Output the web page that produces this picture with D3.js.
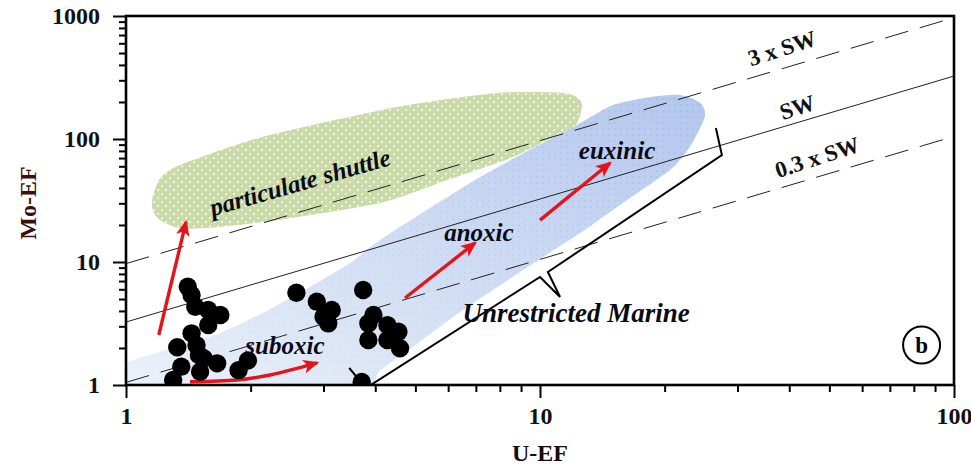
<!DOCTYPE html>
<html>
<head>
<meta charset="utf-8">
<script src="https://cdn.jsdelivr.net/npm/d3@7"></script>
<style>
  body { margin: 0; background: #fff; }
  text { font-family: "Liberation Serif", "Times New Roman", serif; }
</style>
</head>
<body>
<svg id="chart" width="971" height="473"></svg>
<script>
// ---- Sample enrichment factors (U-EF, Mo-EF) ----
const sampleU  = [1.41, 1.44, 1.47, 1.58, 1.69, 1.58, 1.44, 1.33, 1.48, 1.50, 1.54, 1.66, 1.36, 1.51, 1.30, 1.87, 1.97,
                  2.58, 2.89, 3.14, 3.00, 3.08, 3.74, 3.96, 3.85, 4.28, 4.55, 3.85, 4.28, 4.59, 3.71];
const sampleMo = [6.30, 5.39, 4.33, 4.07, 3.71, 3.07, 2.63, 2.03, 2.11, 1.75, 1.65, 1.50, 1.41, 1.28, 1.10, 1.32, 1.58,
                  5.63, 4.76, 4.07, 3.59, 3.17, 5.92, 3.71, 3.17, 3.07, 2.71, 2.32, 2.32, 1.99, 1.06];

// ---- Axis ticks ----
const xMajor = [1, 10, 100];
const yMajor = [1, 10, 100, 1000];
const xMinor = [2,3,4,5,6,7,8,9, 20,30,40,50,60,70,80,90];
const yMinor = [2,3,4,5,6,7,8,9, 20,30,40,50,60,70,80,90, 200,300,400,500,600,700,800,900];

// ---- Seawater Mo/U reference lines (Mo-EF = k * U-EF) ----
const refNames   = ["3 x SW", "SW", "0.3 x SW"];
const refFactors = [9.7, 3.25, 1.05];
const refDashed  = [true, false, true];
const refLabelU  = [38.4, 41.8, 46.7];
const refLabelMo = [549, 182, 71.4];

// ---- Particulate shuttle field outline ----
const shuttleU  = [1.16, 1.21, 1.35, 2.14, 4.51, 7.87, 11.4, 12.5, 12.6, 12.2, 11.2, 8.6, 5.96, 4.11, 2.14, 1.40, 1.21, 1.16];
const shuttleMo = [33.8, 48.2, 61.5, 104, 182, 237, 237, 208, 172, 130, 112, 71.4, 46.4, 30.2, 21.1, 18.6, 21.9, 26.5];

// ---- Unrestricted marine field outline ----
const marineU  = [0.90, 0.95, 1.69, 2.45, 3.48, 4.11, 7.17, 12.5, 15.0, 18.4, 21.8, 24.4, 25.0, 23.0, 20.6, 15.6, 12.5, 8.95, 6.41, 4.93, 4.11, 3.48, 0.90];
const marineMo = [0.70, 1.40, 2.65, 4.91, 9.81, 15.1, 49.1, 135, 189, 219, 228, 196, 151, 86.1, 56.0, 29.1, 17.2, 8.29, 3.92, 2.04, 1.32, 0.83, 0.70];

// ---- Bracket enclosing the unrestricted marine trend ----
const bracketU  = [3.46, 3.80, 10.0, 11.18, 10.45, 27.5, 26.6];
const bracketMo = [1.375, 0.945, 7.55, 5.19, 8.29, 74.1, 122.9];

// ---- Redox trend arrows ----
const arrowShuttleU  = [1.20, 1.396];
const arrowShuttleMo = [2.55, 21.1];
const arrowSuboxicU  = [1.428, 1.854, 2.228, 2.893];
const arrowSuboxicMo = [1.064, 1.098, 1.206, 1.51];
const arrowAnoxicU   = [4.72, 6.97];
const arrowAnoxicMo  = [5.10, 14.3];
const arrowEuxinicU  = [10.0, 14.76];
const arrowEuxinicMo = [21.9, 63.8];

// ---- Field labels ----
const fieldNames = ["particulate shuttle", "suboxic", "anoxic", "euxinic", "Unrestricted Marine"];
const fieldU     = [2.63, 2.42, 7.12, 15.35, 12.22];
const fieldMo    = [44.7, 2.11, 17.5, 81.4, 3.85];
const fieldAngle = [-16, 0, 0, 0, 0];
const fieldSize  = [25, 25, 25, 25, 27];

const panelTag = "b";
const panelU = 83.5, panelMo = 2.11;

// ---------------------------------------------------------------
const svg = d3.select("#chart");
const plotL = 126, plotR = 954, plotT = 16, plotB = 385;

const x = d3.scaleLog().domain([1, 100]).range([plotL, plotR]);
const y = d3.scaleLog().domain([1, 1000]).range([plotB, plotT]);

const zip = (a, b) => a.map((v, i) => [v, b[i]]);
const line = d3.line().x(d => x(d[0])).y(d => y(d[1]));

const defs = svg.append("defs");
defs.append("clipPath").attr("id", "plotClip")
  .append("rect").attr("x", plotL).attr("y", plotT).attr("width", plotR - plotL).attr("height", plotB - plotT);

// green dotted texture
const gp = defs.append("pattern").attr("id", "greenDots").attr("patternUnits", "userSpaceOnUse")
  .attr("width", 8).attr("height", 8);
gp.append("rect").attr("width", 8).attr("height", 8).attr("fill", "#cbdaa9");
gp.append("rect").attr("x", 0).attr("y", 0).attr("width", 1).attr("height", 1).attr("fill", "#bdcf96");
gp.append("rect").attr("x", 4).attr("y", 2).attr("width", 1).attr("height", 1).attr("fill", "#bdcf96");
gp.append("circle").attr("cx", 2).attr("cy", 2).attr("r", 0.9).attr("fill", "#ffffff");
gp.append("circle").attr("cx", 6).attr("cy", 6).attr("r", 0.9).attr("fill", "#ffffff");

// blue field gradient
const bg = defs.append("linearGradient").attr("id", "blueGrad")
  .attr("x1", 0).attr("y1", 1).attr("x2", 1).attr("y2", 0);
bg.append("stop").attr("offset", "0%").attr("stop-color", "#f0f4fb");
bg.append("stop").attr("offset", "35%").attr("stop-color", "#dae4f5");
bg.append("stop").attr("offset", "70%").attr("stop-color", "#c6d5f1");
bg.append("stop").attr("offset", "100%").attr("stop-color", "#b2c6ed");

// blue dot grid, fading in toward high enrichment
const bp = defs.append("pattern").attr("id", "blueDots").attr("patternUnits", "userSpaceOnUse")
  .attr("width", 6).attr("height", 6);
bp.append("circle").attr("cx", 3).attr("cy", 3).attr("r", 1.1).attr("fill", "#a3bbea");
bp.append("rect").attr("x", 0).attr("y", 0).attr("width", 6).attr("height", 0.6).attr("fill", "#bccdf0");
const mg = defs.append("linearGradient").attr("id", "fadeGrad")
  .attr("x1", 0).attr("y1", 1).attr("x2", 1).attr("y2", 0);
mg.append("stop").attr("offset", "0%").attr("stop-color", "#000");
mg.append("stop").attr("offset", "45%").attr("stop-color", "#333");
mg.append("stop").attr("offset", "100%").attr("stop-color", "#fff");
const mask = defs.append("mask").attr("id", "fadeMask").attr("maskContentUnits", "objectBoundingBox");
mask.append("rect").attr("width", 1).attr("height", 1).attr("fill", "url(#fadeGrad)");

// red arrowhead
defs.append("marker").attr("id", "redHead")
  .attr("viewBox", "0 0 14 12").attr("refX", 12).attr("refY", 6)
  .attr("markerWidth", 16).attr("markerHeight", 14)
  .attr("markerUnits", "userSpaceOnUse").attr("orient", "auto")
  .append("path").attr("d", "M0,0 L14,6 L0,12 L3.5,6 Z").attr("fill", "#e3141c");

const plot = svg.append("g").attr("clip-path", "url(#plotClip)");

// fields
const smooth = d3.line().x(d => x(d[0])).y(d => y(d[1])).curve(d3.curveCardinalClosed.tension(0.3));
plot.append("path").attr("d", smooth(zip(marineU, marineMo))).attr("fill", "url(#blueGrad)");
plot.append("path").attr("d", smooth(zip(marineU, marineMo))).attr("fill", "url(#blueDots)")
  .attr("mask", "url(#fadeMask)").attr("opacity", 0.8);
plot.append("path").attr("d", smooth(zip(shuttleU, shuttleMo))).attr("fill", "url(#greenDots)");

// seawater reference lines
refFactors.forEach((k, i) => {
  plot.append("path")
    .attr("d", line([[1, k], [100, k * 100]]))
    .attr("fill", "none").attr("stroke", "#222").attr("stroke-width", 1)
    .attr("stroke-dasharray", refDashed[i] ? "24,12" : null);
  svg.append("text")
    .attr("transform", `translate(${x(refLabelU[i])},${y(refLabelMo[i])}) rotate(-18)`)
    .attr("text-anchor", "middle").attr("dy", "0.35em")
    .attr("font-size", 23).attr("font-weight", "bold").attr("fill", "#111")
    .text(refNames[i]);
});

// bracket
plot.append("path").attr("d", line(zip(bracketU, bracketMo)))
  .attr("fill", "none").attr("stroke", "#000").attr("stroke-width", 2).attr("stroke-linejoin", "miter");

// red arrows
const arrows = [
  [arrowShuttleU, arrowShuttleMo, d3.curveLinear],
  [arrowSuboxicU, arrowSuboxicMo, d3.curveCatmullRom],
  [arrowAnoxicU, arrowAnoxicMo, d3.curveLinear],
  [arrowEuxinicU, arrowEuxinicMo, d3.curveLinear]
];
arrows.forEach(([u, m, c]) => {
  const p = d3.line().x(d => x(d[0])).y(d => y(d[1])).curve(c);
  plot.append("path").attr("d", p(zip(u, m)))
    .attr("fill", "none").attr("stroke", "#e3141c").attr("stroke-width", 3.4)
    .attr("marker-end", "url(#redHead)");
});

// samples
plot.selectAll("circle.sample").data(zip(sampleU, sampleMo)).join("circle")
  .attr("class", "sample")
  .attr("cx", d => x(d[0])).attr("cy", d => y(d[1])).attr("r", 9.2)
  .attr("fill", "#000");

// field labels
fieldNames.forEach((t, i) => {
  svg.append("text")
    .attr("transform", `translate(${x(fieldU[i])},${y(fieldMo[i])}) rotate(${fieldAngle[i]})`)
    .attr("text-anchor", "middle").attr("dy", "0.35em")
    .attr("font-size", fieldSize[i]).attr("font-weight", "bold").attr("font-style", "italic").attr("fill", "#0a0a14")
    .text(t);
});

// panel tag
svg.append("circle").attr("cx", x(panelU)).attr("cy", y(panelMo)).attr("r", 18.5)
  .attr("fill", "none").attr("stroke", "#000").attr("stroke-width", 2);
svg.append("text").attr("x", x(panelU)).attr("y", y(panelMo)).attr("dy", "0.35em")
  .attr("text-anchor", "middle").attr("font-size", 23).attr("font-weight", "bold").text(panelTag);

// axes
const fmt = d => String(d);
svg.append("g").attr("transform", `translate(0,${plotB})`)
  .call(d3.axisBottom(x).tickValues(xMajor).tickFormat(fmt).tickSize(13).tickPadding(9));
svg.append("g").attr("transform", `translate(0,${plotB})`)
  .call(d3.axisBottom(x).tickValues(xMinor).tickFormat("").tickSize(7));
svg.append("g").attr("transform", `translate(${plotL},0)`)
  .call(d3.axisLeft(y).tickValues(yMajor).tickFormat(fmt).tickSize(13).tickPadding(13));
svg.append("g").attr("transform", `translate(${plotL},0)`)
  .call(d3.axisLeft(y).tickValues(yMinor).tickFormat("").tickSize(7));
svg.selectAll(".domain").remove();
svg.selectAll(".tick line").attr("stroke", "#000").attr("stroke-width", 2);
svg.selectAll(".tick text").attr("font-family", "Liberation Serif, serif")
  .attr("font-size", 24).attr("font-weight", "bold").attr("fill", "#111");

// frame
svg.append("rect").attr("x", plotL).attr("y", plotT).attr("width", plotR - plotL).attr("height", plotB - plotT)
  .attr("fill", "none").attr("stroke", "#000").attr("stroke-width", 2.6);

// axis titles
svg.append("text").attr("x", x(10)).attr("y", 461)
  .attr("text-anchor", "middle").attr("font-size", 24).attr("font-weight", "bold").attr("fill", "#1a0808")
  .text("U-EF");
svg.append("text").attr("transform", `translate(36,203) rotate(-90)`)
  .attr("text-anchor", "middle").attr("font-size", 24).attr("font-weight", "bold").attr("fill", "#3a0f0f")
  .text("Mo-EF");
</script>
</body>
</html>
